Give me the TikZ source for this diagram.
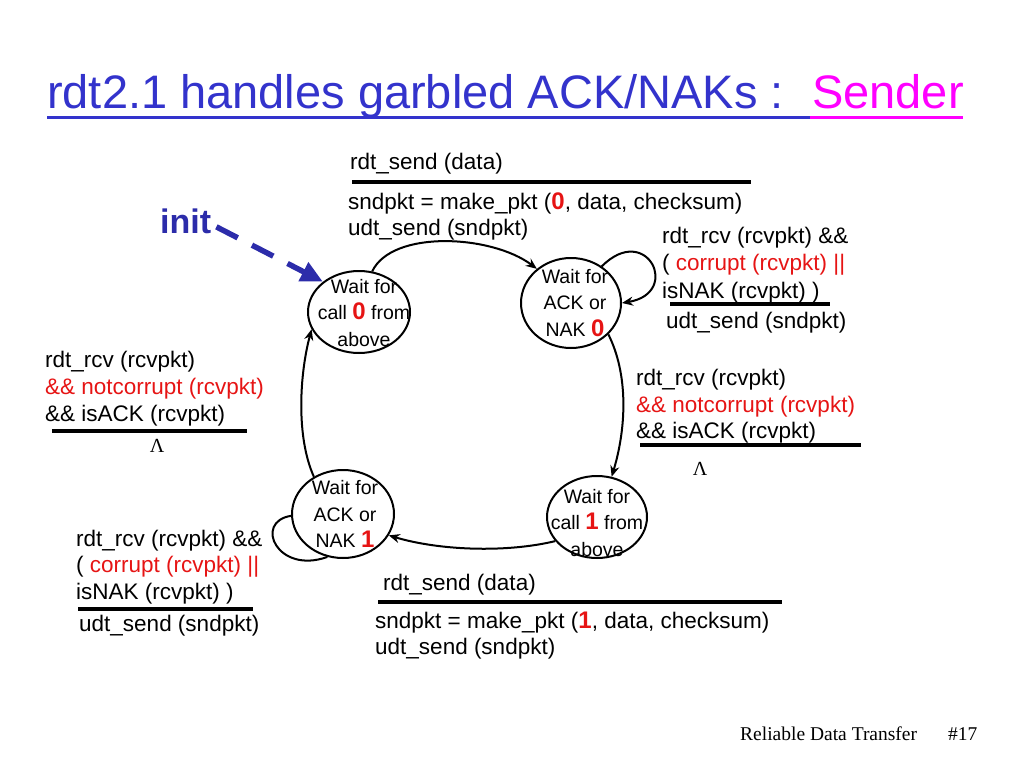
\documentclass[tikz,border=0pt]{standalone}
\usepackage{fontspec}
\setmainfont{Liberation Sans}
\newfontfamily\serifft{Liberation Serif}
\usetikzlibrary{shapes.geometric,arrows.meta}
\definecolor{tblue}{RGB}{51,51,204}
\definecolor{tmag}{RGB}{255,0,255}
\definecolor{iblue}{RGB}{44,44,170}
\definecolor{lred}{RGB}{230,20,20}
\newcommand{\rz}[1]{{\fontsize{24}{24}\selectfont\bfseries\color{lred}#1}}
\newcommand{\rt}[1]{{\color{lred}#1}}
\begin{document}
\begin{tikzpicture}[x=1pt,y=-1pt,
  lbl/.style={anchor=base west,inner sep=0pt,font=\fontsize{22.5}{27}\selectfont},
  state/.style={draw,line width=2pt,ellipse,inner sep=0pt},
  stxt/.style={align=center,inner sep=0pt,font=\fontsize{19.5}{26.5}\selectfont},
  trans/.style={line width=2pt,-{Stealth[length=11pt,width=9pt]}},
  loopline/.style={line width=2pt},
  rulebar/.style={line width=3.5pt},
  lam/.style={anchor=base,inner sep=0pt,font=\serifft\fontsize{20}{20}\selectfont}]
\useasboundingbox (0,0) rectangle (1024,768);

% title
\node[anchor=base west,inner sep=0pt,font=\fontsize{47}{50}\selectfont,text=tblue] (title) at (47,108) {rdt2.1 handles garbled ACK/NAKs :};
\node[anchor=base west,inner sep=0pt,font=\fontsize{47}{50}\selectfont,text=tmag] (sender) at (812,108) {Sender};
\draw[tblue,line width=3pt] (47,117) -- (810,117);
\draw[tmag,line width=3pt] (810,117) -- (963,117);

% states
\node[state,minimum width=102pt,minimum height=82pt,
  label={[stxt,xshift=5pt,yshift=-1pt]center:Wait for\\call \rz{0} from\\above}] (S0) at (359,312) {};
\node[state,minimum width=100pt,minimum height=90pt,
  label={[stxt,xshift=4pt]center:Wait for\\ACK or\\NAK \rz{0}}] (S1) at (571,303) {};
\node[state,minimum width=100pt,minimum height=82pt,
  label={[stxt,yshift=-6pt]center:Wait for\\call \rz{1} from\\above}] (S2) at (597,517) {};
\node[state,minimum width=102pt,minimum height=88pt,
  label={[stxt,xshift=2pt]center:Wait for\\ACK or\\NAK \rz{1}}] (S3) at (343,514) {};

% init
\node[anchor=base west,inner sep=0pt,font=\fontsize{34}{34}\selectfont\bfseries,text=iblue] (init) at (160,233) {init};
\draw[iblue,line width=5.5pt,dash pattern=on 24pt off 16pt,-{Triangle[length=22pt,width=20pt]}]
  ([xshift=5pt,yshift=-6pt]init.east) -- (S0.140);

% transitions
\draw[trans] (S0.72) .. controls +(20,-42) and +(-45,-34) .. (S1.135);
\draw[trans] (S1.50) .. controls +(45,-45) and +(60,-10) .. (S1.0);
\draw[trans] (S1.-40) .. controls +(20,40) and +(15,-50) .. (S2.70);
\draw[trans] (S2.210) .. controls +(-50,12) and +(50,15) .. (S3.-25);
\draw[loopline] (S3.182) .. controls +(-38,6) and +(-50,18) .. (S3.250);
\draw[trans] (S3.128) .. controls +(-18,-40) and +(-12,45) .. (S0.200);

% top label
\node[lbl] (a1) at (350,169) {rdt\_send (data)};
\draw[rulebar] (352,182) -- (751,182);
\node[lbl] (a2) at (348,209) {sndpkt = make\_pkt (\rz{0}, data, checksum)};
\node[lbl] (a3) at (348,235) {udt\_send (sndpkt)};

% top right label
\node[lbl] (b1) at (662,243) {rdt\_rcv (rcvpkt) \&\&};
\node[lbl] (b2) at (662,270) {( \rt{corrupt (rcvpkt) ||}};
\node[lbl] (b3) at (662,298) {isNAK (rcvpkt) )};
\draw[rulebar] (670,304) -- (830,304);
\node[lbl] (b4) at (666,328) {udt\_send (sndpkt)};

% left middle label
\node[lbl] (c1) at (45,367) {rdt\_rcv (rcvpkt)};
\node[lbl] (c2) at (45,394) {\rt{\&\& notcorrupt (rcvpkt)}};
\node[lbl] (c3) at (45,421) {\&\& isACK (rcvpkt)};
\draw[rulebar] (52,431) -- (247,431);
\node[lam] (c4) at (157,452) {Λ};

% right middle label
\node[lbl] (d1) at (636,385) {rdt\_rcv (rcvpkt)};
\node[lbl] (d2) at (636,412) {\rt{\&\& notcorrupt (rcvpkt)}};
\node[lbl] (d3) at (636,438) {\&\& isACK (rcvpkt)};
\draw[rulebar] (640,445) -- (861,445);
\node[lam] (d4) at (700,475) {Λ};

% bottom left label
\node[lbl] (e1) at (76,546) {rdt\_rcv (rcvpkt) \&\&};
\node[lbl] (e2) at (76,572) {( \rt{corrupt (rcvpkt) ||}};
\node[lbl] (e3) at (76,599) {isNAK (rcvpkt) )};
\draw[rulebar] (78,609) -- (253,609);
\node[lbl] (e4) at (79,631) {udt\_send (sndpkt)};

% bottom label
\node[lbl] (f1) at (383,590) {rdt\_send (data)};
\draw[rulebar] (378,602) -- (782,602);
\node[lbl] (f2) at (375,628) {sndpkt = make\_pkt (\rz{1}, data, checksum)};
\node[lbl] (f3) at (375,654) {udt\_send (sndpkt)};

% footer
\node[anchor=base west,inner sep=0pt,font=\serifft\fontsize{19.5}{20}\selectfont] (ft) at (740,740) {Reliable Data Transfer};
\node[anchor=base west,inner sep=0pt,font=\serifft\fontsize{19.5}{20}\selectfont] (pg) at (948,740) {\#17};
\end{tikzpicture}
\end{document}
